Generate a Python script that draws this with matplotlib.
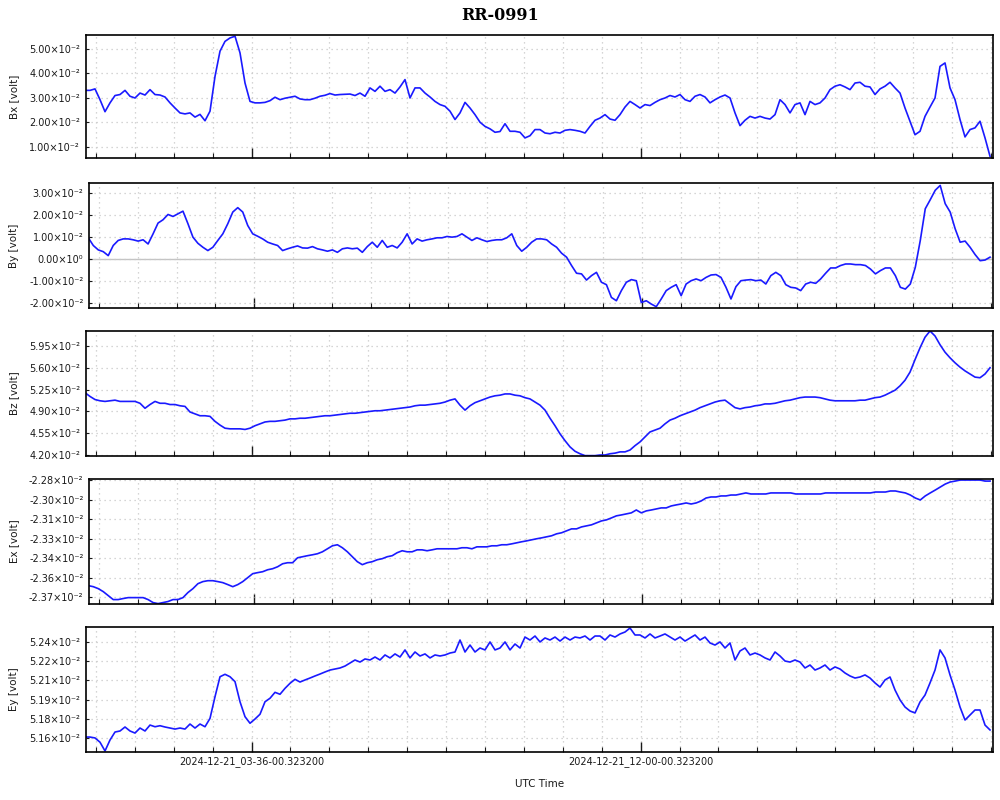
import numpy as np
import matplotlib
matplotlib.use("Agg")
import matplotlib.pyplot as plt
from matplotlib.ticker import FixedLocator, MultipleLocator, NullFormatter

# sample times, minutes after 2024-12-21 00:00 (one reading every ~6.5 min)
T0 = 0.3
STEP = 6.477
X_RANGE = (1.2, 1176.5)
MAJOR_T = [216.0, 720.0]
MAJOR_LABELS = ["2024-12-21_03-36-00.323200", "2024-12-21_12-00-00.323200"]
MINOR_STEP = 50.4

# values in units of 1e-2 volt
bx = [3.31, 3.31, 3.37, 2.93, 2.44, 2.80, 3.10, 3.14, 3.31, 3.07, 3.00, 3.20, 3.12, 3.34, 3.14, 3.12,
      3.04, 2.80, 2.59, 2.39, 2.35, 2.39, 2.22, 2.33, 2.07, 2.46, 3.88, 4.91, 5.31, 5.45, 5.52, 4.84,
      3.61, 2.86, 2.80, 2.80, 2.82, 2.89, 3.03, 2.93, 2.99, 3.03, 3.07, 2.96, 2.93, 2.93, 2.99, 3.07,
      3.11, 3.18, 3.12, 3.14, 3.15, 3.16, 3.10, 3.20, 3.07, 3.41, 3.27, 3.48, 3.27, 3.34, 3.20, 3.45,
      3.75, 3.00, 3.41, 3.41, 3.20, 3.04, 2.86, 2.73, 2.66, 2.46, 2.12, 2.39, 2.82, 2.59, 2.32, 2.01,
      1.84, 1.74, 1.60, 1.63, 1.95, 1.64, 1.64, 1.60, 1.37, 1.46, 1.71, 1.71, 1.57, 1.54, 1.60, 1.57,
      1.68, 1.71, 1.68, 1.64, 1.57, 1.84, 2.09, 2.18, 2.32, 2.14, 2.09, 2.32, 2.63, 2.86, 2.73, 2.59,
      2.73, 2.69, 2.82, 2.93, 3.00, 3.10, 3.04, 3.14, 2.93, 2.86, 3.07, 3.14, 3.04, 2.80, 2.93, 3.04,
      3.12, 3.00, 2.39, 1.87, 2.09, 2.25, 2.18, 2.25, 2.18, 2.14, 2.32, 2.93, 2.73, 2.39, 2.73, 2.80,
      2.32, 2.86, 2.73, 2.80, 3.00, 3.34, 3.48, 3.54, 3.45, 3.34, 3.61, 3.64, 3.48, 3.45, 3.14, 3.37,
      3.48, 3.64, 3.41, 3.20, 2.59, 2.05, 1.50, 1.64, 2.25, 2.63, 3.00, 4.29, 4.43, 3.41, 2.93, 2.12,
      1.41, 1.71, 1.78, 2.05, 1.37, 0.62]

by = [0.96, 0.61, 0.41, 0.33, 0.15, 0.61, 0.84, 0.91, 0.91, 0.87, 0.81, 0.87, 0.68, 1.14, 1.63, 1.78,
      2.02, 1.93, 2.05, 2.17, 1.60, 0.99, 0.71, 0.53, 0.38, 0.53, 0.84, 1.14, 1.60, 2.13, 2.33, 2.13,
      1.52, 1.14, 1.03, 0.91, 0.76, 0.68, 0.61, 0.38, 0.46, 0.53, 0.59, 0.50, 0.49, 0.56, 0.46, 0.41,
      0.35, 0.41, 0.30, 0.46, 0.50, 0.46, 0.49, 0.30, 0.56, 0.76, 0.53, 0.84, 0.53, 0.61, 0.50, 0.76,
      1.14, 0.68, 0.91, 0.81, 0.87, 0.91, 0.96, 0.96, 1.02, 0.99, 1.02, 1.14, 0.99, 0.84, 0.96, 0.87,
      0.79, 0.84, 0.87, 0.87, 0.96, 1.14, 0.61, 0.35, 0.53, 0.76, 0.91, 0.91, 0.87, 0.68, 0.53, 0.26,
      0.08, -0.30, -0.65, -0.68, -0.96, -0.76, -0.61, -1.06, -1.17, -1.75, -1.90, -1.44, -1.06, -0.94,
      -0.99, -1.98, -1.90, -2.05, -2.17, -1.82, -1.44, -1.29, -1.17, -1.67, -1.14, -0.99, -0.91, -0.99,
      -0.84, -0.73, -0.71, -0.84, -1.29, -1.82, -1.26, -0.99, -0.96, -0.94, -0.99, -0.96, -1.14, -0.76,
      -0.61, -0.76, -1.17, -1.29, -1.32, -1.44, -1.14, -1.06, -1.11, -0.91, -0.65, -0.41, -0.41, -0.30,
      -0.23, -0.23, -0.26, -0.26, -0.30, -0.46, -0.68, -0.53, -0.41, -0.41, -0.76, -1.29, -1.37, -1.14,
      -0.38, 0.84, 2.28, 2.69, 3.12, 3.34, 2.51, 2.13, 1.37, 0.76, 0.81, 0.53, 0.20, -0.08, -0.05, 0.08]

bz = [5.20, 5.14, 5.09, 5.07, 5.06, 5.07, 5.08, 5.06, 5.06, 5.06, 5.06, 5.03, 4.95, 5.01, 5.06, 5.03,
      5.03, 5.01, 5.01, 4.99, 4.98, 4.89, 4.86, 4.83, 4.83, 4.82, 4.74, 4.68, 4.63, 4.62, 4.62, 4.62,
      4.61, 4.63, 4.67, 4.70, 4.73, 4.74, 4.74, 4.75, 4.76, 4.78, 4.78, 4.79, 4.79, 4.80, 4.81, 4.82,
      4.83, 4.83, 4.84, 4.85, 4.86, 4.87, 4.87, 4.88, 4.89, 4.90, 4.91, 4.91, 4.92, 4.93, 4.94, 4.95,
      4.96, 4.97, 4.99, 5.00, 5.00, 5.01, 5.02, 5.03, 5.05, 5.08, 5.10, 5.00, 4.92, 4.99, 5.04, 5.07,
      5.10, 5.13, 5.15, 5.16, 5.18, 5.18, 5.16, 5.15, 5.12, 5.10, 5.05, 5.00, 4.92, 4.79, 4.67, 4.54,
      4.43, 4.33, 4.26, 4.22, 4.19, 4.19, 4.19, 4.20, 4.20, 4.22, 4.23, 4.25, 4.25, 4.28, 4.35, 4.41,
      4.49, 4.57, 4.60, 4.63, 4.70, 4.76, 4.79, 4.83, 4.86, 4.89, 4.92, 4.96, 4.99, 5.02, 5.05, 5.07,
      5.08, 5.02, 4.96, 4.94, 4.96, 4.97, 4.99, 5.00, 5.02, 5.02, 5.03, 5.05, 5.07, 5.08, 5.10, 5.12,
      5.13, 5.13, 5.13, 5.12, 5.10, 5.08, 5.07, 5.07, 5.07, 5.07, 5.07, 5.08, 5.08, 5.10, 5.12, 5.13,
      5.16, 5.20, 5.24, 5.31, 5.40, 5.53, 5.73, 5.92, 6.09, 6.19, 6.11, 5.97, 5.85, 5.76, 5.68, 5.61,
      5.55, 5.50, 5.45, 5.44, 5.50, 5.60]

ex = [-2.3611, -2.3619, -2.3634, -2.3657, -2.3687, -2.3718, -2.3718, -2.3710, -2.3703, -2.3703,
      -2.3703, -2.3703, -2.3718, -2.3741, -2.3749, -2.3741, -2.3733, -2.3718, -2.3718, -2.3703,
      -2.3664, -2.3634, -2.3596, -2.3580, -2.3573, -2.3573, -2.3580, -2.3588, -2.3603, -2.3619,
      -2.3603, -2.3580, -2.3550, -2.3519, -2.3511, -2.3504, -2.3489, -2.3481, -2.3466, -2.3443,
      -2.3435, -2.3435, -2.3397, -2.3389, -2.3381, -2.3374, -2.3366, -2.3351, -2.3328, -2.3305,
      -2.3297, -2.3320, -2.3351, -2.3389, -2.3427, -2.3450, -2.3435, -2.3427, -2.3412, -2.3404,
      -2.3389, -2.3381, -2.3358, -2.3343, -2.3351, -2.3351, -2.3336, -2.3336, -2.3343, -2.3336,
      -2.3328, -2.3328, -2.3328, -2.3328, -2.3328, -2.3320, -2.3320, -2.3328, -2.3313, -2.3313,
      -2.3313, -2.3305, -2.3305, -2.3297, -2.3297, -2.3290, -2.3282, -2.3274, -2.3267, -2.3259,
      -2.3251, -2.3244, -2.3236, -2.3228, -2.3213, -2.3205, -2.3190, -2.3175, -2.3175, -2.3160,
      -2.3152, -2.3144, -2.3129, -2.3114, -2.3106, -2.3091, -2.3075, -2.3068, -2.3060, -2.3052,
      -2.3030, -2.3052, -2.3037, -2.3030, -2.3022, -2.3014, -2.3014, -2.2999, -2.2991, -2.2984,
      -2.2976, -2.2984, -2.2976, -2.2961, -2.2938, -2.2930, -2.2930, -2.2922, -2.2922, -2.2915,
      -2.2915, -2.2907, -2.2899, -2.2907, -2.2907, -2.2907, -2.2907, -2.2899, -2.2899, -2.2899,
      -2.2899, -2.2899, -2.2907, -2.2907, -2.2907, -2.2907, -2.2907, -2.2907, -2.2899, -2.2899,
      -2.2899, -2.2899, -2.2899, -2.2899, -2.2899, -2.2899, -2.2899, -2.2899, -2.2892, -2.2892,
      -2.2892, -2.2884, -2.2884, -2.2892, -2.2899, -2.2915, -2.2938, -2.2953, -2.2922, -2.2899,
      -2.2877, -2.2854, -2.2831, -2.2815, -2.2808, -2.2800, -2.2800, -2.2800, -2.2800, -2.2800,
      -2.2808, -2.2808]

ey = [5.1660, 5.1660, 5.1653, 5.1620, 5.1552, 5.1637, 5.1699, 5.1707, 5.1738, 5.1707, 5.1691, 5.1730,
      5.1707, 5.1753, 5.1740, 5.1748, 5.1738, 5.1730, 5.1722, 5.1730, 5.1722, 5.1761, 5.1730, 5.1761,
      5.1740, 5.1805, 5.1973, 5.2128, 5.2147, 5.2128, 5.2090, 5.1934, 5.1818, 5.1767, 5.1800, 5.1837,
      5.1934, 5.1961, 5.2007, 5.1992, 5.2038, 5.2077, 5.2108, 5.2087, 5.2103, 5.2118, 5.2134, 5.2149,
      5.2165, 5.2180, 5.2188, 5.2196, 5.2211, 5.2235, 5.2258, 5.2242, 5.2266, 5.2258, 5.2281, 5.2258,
      5.2297, 5.2274, 5.2305, 5.2281, 5.2336, 5.2274, 5.2320, 5.2289, 5.2305, 5.2274, 5.2297, 5.2289,
      5.2297, 5.2312, 5.2320, 5.2413, 5.2320, 5.2374, 5.2320, 5.2351, 5.2336, 5.2398, 5.2336, 5.2351,
      5.2398, 5.2336, 5.2382, 5.2351, 5.2436, 5.2413, 5.2444, 5.2398, 5.2429, 5.2413, 5.2436, 5.2405,
      5.2436, 5.2413, 5.2436, 5.2429, 5.2444, 5.2413, 5.2444, 5.2444, 5.2413, 5.2452, 5.2436, 5.2460,
      5.2475, 5.2506, 5.2452, 5.2452, 5.2429, 5.2460, 5.2429, 5.2444, 5.2460, 5.2436, 5.2413, 5.2436,
      5.2405, 5.2429, 5.2452, 5.2413, 5.2436, 5.2390, 5.2374, 5.2398, 5.2351, 5.2390, 5.2258, 5.2328,
      5.2351, 5.2297, 5.2312, 5.2297, 5.2274, 5.2258, 5.2320, 5.2289, 5.2250, 5.2242, 5.2258, 5.2242,
      5.2196, 5.2219, 5.2180, 5.2196, 5.2219, 5.2180, 5.2204, 5.2188, 5.2157, 5.2134, 5.2118, 5.2126,
      5.2142, 5.2118, 5.2080, 5.2048, 5.2103, 5.2126, 5.2025, 5.1948, 5.1893, 5.1862, 5.1847, 5.1932,
      5.1986, 5.2080, 5.2180, 5.2336, 5.2274, 5.2142, 5.2025, 5.1893, 5.1792, 5.1831, 5.1870, 5.1870,
      5.1753, 5.1715]

names = ["Bx [volt]", "By [volt]", "Bz [volt]", "Ex [volt]", "Ey [volt]"]
series = [bx, by, bz, ex, ey]
yticks = [
    [1.00, 2.00, 3.00, 4.00, 5.00],
    [-2.00, -1.00, 0.00, 1.00, 2.00, 3.00],
    [4.20, 4.55, 4.90, 5.25, 5.60, 5.95],
    [-2.37, -2.355, -2.34, -2.325, -2.31, -2.295, -2.28],
    [5.165, 5.18, 5.195, 5.21, 5.225, 5.24],
]
ytick_labels = [
    ["1.00", "2.00", "3.00", "4.00", "5.00"],
    ["-2.00", "-1.00", "0.00", "1.00", "2.00", "3.00"],
    ["4.20", "4.55", "4.90", "5.25", "5.60", "5.95"],
    ["-2.37", "-2.36", "-2.34", "-2.33", "-2.31", "-2.30", "-2.28"],
    ["5.16", "5.18", "5.19", "5.21", "5.22", "5.24"],
]
ylims = [(0.55, 5.57), (-2.23, 3.45), (4.184, 6.19), (-2.3752, -2.2792), (5.1544, 5.2514)]

# panel boxes in pixels: left, top, bottom (right edge shared)
boxes = [(85.7, 35, 158), (89, 183, 308), (85.7, 331, 456), (89, 479, 604), (85.7, 627, 752)]
W, H = 1000, 800
RIGHT = 993

fig = plt.figure(figsize=(10, 8), dpi=100)
fig.text(0.5, 1 - 16 / H, "RR-0991", ha="center", va="center",
         fontsize=11.5, fontweight="bold", family="DejaVu Serif")

t = T0 + STEP * np.arange(len(bx))
tick_color = "#1a1a1a"

for i, (vals, name) in enumerate(zip(series, names)):
    left, top, bottom = boxes[i]
    ax = fig.add_axes([left / W, 1 - bottom / H, (RIGHT - left) / W, (bottom - top) / H])
    v = np.array(vals) * 1e-2
    ax.plot(t, v, color="#1a1aff", lw=1.2, solid_joinstyle="round")
    if i == 1:
        ax.axhline(0, color="#c4c4c4", lw=1.0, zorder=0)
    ax.set_xlim(*X_RANGE)
    ax.set_ylim(ylims[i][0] * 1e-2, ylims[i][1] * 1e-2)

    ax.yaxis.set_major_locator(FixedLocator(np.array(yticks[i]) * 1e-2))
    labs = []
    for s in ytick_labels[i]:
        labs.append("0.00×10⁰" if s == "0.00" else s + "×10⁻²")
    ax.set_yticklabels(labs)

    ax.xaxis.set_major_locator(FixedLocator(MAJOR_T))
    ax.xaxis.set_minor_locator(MultipleLocator(MINOR_STEP, offset=MAJOR_T[0] % MINOR_STEP))
    if i == 4:
        ax.set_xticklabels(MAJOR_LABELS)
    else:
        ax.set_xticklabels([])
    ax.xaxis.set_minor_formatter(NullFormatter())

    ax.tick_params(axis="x", which="major", direction="in", length=7, width=1.0,
                   labelsize=7, colors=tick_color, pad=3)
    ax.tick_params(axis="x", which="minor", direction="in", length=3.5, width=0.8,
                   colors=tick_color)
    ax.tick_params(axis="y", which="major", direction="in", length=2.5, width=0.8,
                   labelsize=7, colors=tick_color, pad=4)

    ax.grid(True, which="both", axis="x", color="#c8c8c8", linestyle=(0, (1, 3)), lw=0.9)
    ax.grid(True, which="major", axis="y", color="#c8c8c8", linestyle=(0, (1, 3)), lw=0.9)
    for sp in ax.spines.values():
        sp.set_linewidth(1.2)
        sp.set_color("black")

    fig.text(14 / W, 1 - (top + bottom) / 2 / H, name, rotation=90,
             ha="center", va="center", fontsize=7.5, color=tick_color)

fig.text((85.7 + RIGHT) / 2 / W, 1 - 784 / H, "UTC Time", ha="center", va="center",
         fontsize=7.5, color=tick_color)

fig.savefig("out.png", dpi=100)
